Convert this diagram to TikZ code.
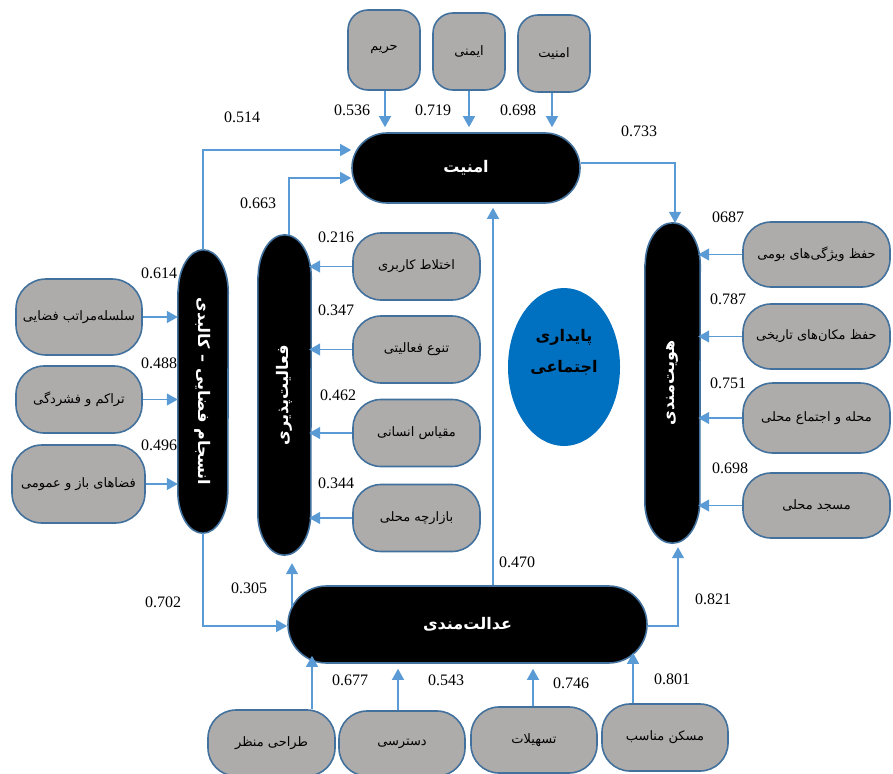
\documentclass[tikz,border=0pt]{standalone}
\usepackage{fontspec}
\usepackage{graphicx}
\setmainfont{Liberation Serif}
\newfontfamily\fa[Script=Arabic]{DejaVu Sans}
\TeXXeTstate=1
\usetikzlibrary{arrows.meta,shapes.geometric,calc}
\pgfdeclarelayer{background}
\pgfsetlayers{background,main}
\definecolor{gfill}{HTML}{AEABAB}
\definecolor{bord}{HTML}{41719C}
\definecolor{arrc}{HTML}{5B9BD5}
\definecolor{ellc}{HTML}{0070C0}
\newcommand{\rtl}[1]{\beginR #1\endR}
\newcommand{\vpill}[3]{\draw[pillpath] ([yshift=-#3]#1.north west) -- ([yshift=#3]#1.south west) arc[start angle=180, end angle=360, x radius=#2, y radius=#3] -- ([yshift=-#3]#1.north east) arc[start angle=0, end angle=180, x radius=#2, y radius=#3] -- cycle;}
\begin{document}
\begin{tikzpicture}[x=1pt,y=-1pt,
  gbox/.style={draw=bord, line width=1.6pt, fill=gfill, rounded corners=#1, inner sep=0pt,
    font=\fontsize{13}{15}\selectfont\fa, text=black},
  gbox/.default=28pt,
  bpill/.style={draw=bord, line width=1.6pt, fill=black, rounded corners=#1, inner sep=0pt,
    font=\fontsize{16}{18}\selectfont\fa\bfseries, text=white},
  vnode/.style={draw=none, inner sep=0pt, font=\fontsize{16}{18}\selectfont\fa\bfseries, text=white},
  pillpath/.style={draw=bord, line width=1.6pt, fill=black},
  arr/.style={draw=arrc, line width=1.4pt, -{Triangle[length=11pt,width=12pt]}},
  num/.style={font=\fontsize{16}{18}\selectfont, inner sep=0pt, text=black}
]
\useasboundingbox (0,0) rectangle (893,773);

% ---- top boxes ----
\node[gbox=20pt, minimum width=72pt, minimum height=80pt] (harim) at (384,50) {\rtl{حریم}};
\node[gbox=20pt, minimum width=72pt, minimum height=77pt] (imeni) at (469,51.5) {\rtl{ایمنی}};
\node[gbox=20pt, minimum width=72pt, minimum height=77pt] (amnb) at (554,53.5) {\rtl{امنیت}};

% ---- amniat ----
\node[bpill=35pt, minimum width=228pt, minimum height=70pt] (amniat) at (466,168) {\rtl{امنیت}};

% ---- hoviat ----
\node[vnode, minimum width=55pt, minimum height=320pt] (hoviat) at (672.5,383) {\rotatebox{90}{\rtl{هویت‌مندی}}};
\node[gbox, minimum width=147pt, minimum height=65pt] (h1) at (816.5,254.5) {\rtl{حفظ ویژگی‌های بومی}};
\node[gbox, minimum width=147pt, minimum height=65pt] (h2) at (816.5,336.5) {\rtl{حفظ مکان‌های تاریخی}};
\node[gbox=30pt, minimum width=147pt, minimum height=70pt] (h3) at (816.5,418) {\rtl{محله و اجتماع محلی}};
\node[gbox, minimum width=147pt, minimum height=65pt] (h4) at (816.5,505.5) {\rtl{مسجد محلی}};

% ---- ensejam ----
\node[vnode, minimum width=50pt, minimum height=283pt] (ensejam) at (203,391.5) {\rotatebox{-90}{\rtl{انسجام فضایی – کالبدی}}};
\node[gbox=30pt, minimum width=126pt, minimum height=76pt] (s1) at (79,317) {\rtl{سلسله‌مراتب فضایی}};
\node[gbox, minimum width=126pt, minimum height=67pt] (s2) at (79,399.5) {\rtl{تراکم و فشردگی}};
\node[gbox=30pt, minimum width=133pt, minimum height=78pt] (s3) at (78.5,484) {\rtl{فضاهای باز و عمومی}};

% ---- faaliat ----
\node[vnode, minimum width=53pt, minimum height=320pt] (faaliat) at (284.5,395) {\rotatebox{90}{\rtl{فعالیت‌پذیری}}};
\node[gbox, minimum width=127pt, minimum height=67pt] (a1) at (416.5,266.5) {\rtl{اختلاط کاربری}};
\node[gbox, minimum width=127pt, minimum height=67pt] (a2) at (416.5,349.5) {\rtl{تنوع فعالیتی}};
\node[gbox, minimum width=127pt, minimum height=67pt] (a3) at (416.5,433) {\rtl{مقیاس انسانی}};
\node[gbox, minimum width=127pt, minimum height=67pt] (a4) at (416.5,518) {\rtl{بازارچه محلی}};

% ---- ellipse ----
\node[ellipse, fill=ellc, draw=none, minimum width=112pt, minimum height=158pt, inner sep=0pt] (pay) at (564,367) {};
\node[align=center, inner sep=0pt, font=\fontsize{16}{31}\selectfont\fa\bfseries, text=black] (paytxt) at (564,352) {\rtl{پایداری}\\\rtl{اجتماعی}};

% ---- adalat ----
\node[bpill=38.5pt, minimum width=359pt, minimum height=77pt] (adalat) at (467.5,624.5) {\rtl{عدالت‌مندی}};
\node[gbox, minimum width=127pt, minimum height=66pt] (b1) at (271.5,743) {\rtl{طراحی منظر}};
\node[gbox, minimum width=126pt, minimum height=65pt] (b2) at (402,743.5) {\rtl{دسترسی}};
\node[gbox, minimum width=126pt, minimum height=66pt] (b3) at (534,740) {\rtl{تسهیلات}};
\node[gbox, minimum width=126pt, minimum height=67pt] (b4) at (665,737.5) {\rtl{مسکن مناسب}};

% ---- vertical pill outlines ----
\begin{pgfonlayer}{background}
\vpill{hoviat}{27.5pt}{42pt}
\vpill{ensejam}{25pt}{42pt}
\vpill{faaliat}{26.5pt}{42pt}
\end{pgfonlayer}

% ---- connectors ----
\draw[arr, shorten >=5pt] ([xshift=1pt]harim.south) -- ([xshift=1pt]harim.south |- amniat.north);
\draw[arr, shorten >=5pt] (imeni.south) -- (imeni.south |- amniat.north);
\draw[arr, shorten >=5pt] ([xshift=-2pt]amnb.south) -- ([xshift=-2pt]amnb.south |- amniat.north);

\draw[arr] (ensejam.north) |- ([yshift=18pt]amniat.west);
\draw[arr] ([xshift=4.5pt]faaliat.north) |- ([yshift=-10pt]amniat.west);
\draw[arr] ([yshift=5pt]amniat.east) -| ([xshift=2.5pt]hoviat.north);

\foreach \n in {h1,h2,h3,h4} \draw[arr, shorten >=-2pt] (\n.west) -- (\n.west -| hoviat.east);
\foreach \n in {a1,a2,a3,a4} \draw[arr, shorten >=-2pt] (\n.west) -- (\n.west -| faaliat.east);
\foreach \n in {s1,s2,s3} \draw[arr] (\n.east) -- (\n.east -| ensejam.west);

\draw[arr] (ensejam.south) |- ([yshift=-1.5pt]adalat.west);
\draw[arr] ($(faaliat.south |- adalat.north)+(7.5,21.5)$) -- ($(faaliat.south)+(7.5,8)$);
\coordinate (vx) at (493,400);
\draw[arr, shorten >=4pt] (adalat.north -| vx) -- (amniat.south -| vx);
\draw[arr, shorten >=4pt] ([yshift=-1.5pt]adalat.east) -| ([xshift=5.5pt]hoviat.south);

\draw[arr, shorten >=-8pt] ([xshift=40.5pt]b1.north) -- ([xshift=40.5pt]b1.north |- adalat.south);
\draw[arr, shorten >=5pt] ([xshift=-4pt]b2.north) -- ([xshift=-4pt]b2.north |- adalat.south);
\draw[arr, shorten >=5pt] ([xshift=-1pt]b3.north) -- ([xshift=-1pt]b3.north |- adalat.south);
\draw[arr, shorten >=-11pt] ([xshift=-32pt]b4.north) -- ([xshift=-32pt]b4.north |- adalat.south);

% ---- labels ----
\node[num] (n1) at (352,110) {0.536};
\node[num] (n2) at (433,110) {0.719};
\node[num] (n3) at (518,110) {0.698};
\node[num] (n4) at (242,117) {0.514};
\node[num] (n5) at (258,203) {0.663};
\node[num] (n6) at (639,131) {0.733};
\node[num] (n7) at (728,217) {0687};
\node[num] (n8) at (728,299) {0.787};
\node[num] (n9) at (728,383) {0.751};
\node[num] (n10) at (730,468) {0.698};
\node[num] (n11) at (159,273) {0.614};
\node[num] (n12) at (159,363) {0.488};
\node[num] (n13) at (159,445) {0.496};
\node[num] (n14) at (336,237) {0.216};
\node[num] (n15) at (336,310) {0.347};
\node[num] (n16) at (338,395) {0.462};
\node[num] (n17) at (336,483) {0.344};
\node[num] (n18) at (517,562) {0.470};
\node[num] (n19) at (249,588) {0.305};
\node[num] (n20) at (163,602) {0.702};
\node[num] (n21) at (713,599) {0.821};
\node[num] (n22) at (350,680) {0.677};
\node[num] (n23) at (446,680) {0.543};
\node[num] (n24) at (571,683) {0.746};
\node[num] (n25) at (672,679) {0.801};
\end{tikzpicture}
\end{document}
